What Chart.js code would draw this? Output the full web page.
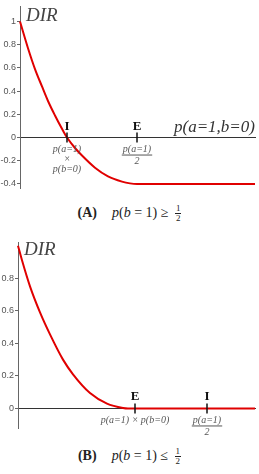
<!DOCTYPE html>
<html>
<head>
<meta charset="utf-8">
<script src="https://cdn.jsdelivr.net/npm/chart.js@4"></script>
<style>
body{margin:0;background:#fff;width:259px;height:474px;position:relative;overflow:hidden}
.box{position:absolute;left:0;width:259px}
.cap{position:absolute;left:0;width:259px;text-align:center;font:14px 'Liberation Serif',serif;color:#222;white-space:nowrap}
.cap b{font-weight:bold;margin-right:15px}
.frac{display:inline-block;vertical-align:middle;font-size:9px;line-height:9px;text-align:center;margin-left:3px}
.frac span{display:block;padding:0 1px}
.frac .n{border-bottom:1px solid #222}
</style>
</head>
<body>
<div class="box" style="top:0;height:195px"><canvas id="chartA"></canvas></div>
<div class="cap" style="top:204px"><b>(A)</b><i>p</i>(<i>b</i> = 1) &ge; <span class="frac"><span class="n">1</span><span>2</span></span></div>
<div class="box" style="top:236px;height:206px"><canvas id="chartB"></canvas></div>
<div class="cap" style="top:447px"><b>(B)</b><i>p</i>(<i>b</i> = 1) &le; <span class="frac"><span class="n">1</span><span>2</span></span></div>
<script>
// curve (A): p(b=1) >= 1/2
const xA = [0, 0.08, 0.15, 0.22, 0.28, 0.35, 0.42, 0.47, 0.55, 0.62, 0.75, 0.88, 1.02, 1.10, 1.17, 2.35];
const yA = [1.0, 0.77, 0.59, 0.44, 0.315, 0.19, 0.075, 0, -0.09, -0.155, -0.26, -0.335, -0.38, -0.395, -0.4, -0.4];
const yTicksA = [-0.4, -0.2, 0, 0.2, 0.4, 0.6, 0.8, 1];
const markX_A = [0.47, 1.17];
const markName_A = ['I', 'E'];
const markLabel_A = [['p(a=1)', '×', 'p(b=0)'], ['p(a=1)', '2']];
const markFrac_A = [false, true];

// curve (B): p(b=1) <= 1/2
const xB = [0, 0.04, 0.12, 0.22, 0.32, 0.45, 0.55, 0.72, 0.89, 1.05, 1.10, 2.37];
const yB = [1.0, 0.91, 0.75, 0.59, 0.455, 0.30, 0.21, 0.095, 0.03, 0.003, 0, 0];
const yTicksB = [0, 0.2, 0.4, 0.6, 0.8];
const markX_B = [1.17, 1.89];
const markName_B = ['E', 'I'];
const markLabel_B = [['p(a=1) × p(b=0)'], ['p(a=1)', '2']];
const markFrac_B = [false, true];

const serif = "'Liberation Serif', 'DejaVu Serif', serif";

const annotPlugin = {
  id: 'annot',
  afterDatasetsDraw(chart, args, opts) {
    const ctx = chart.ctx;
    const xs = chart.scales.x, ys = chart.scales.y;
    const py = ys.getPixelForValue(0);
    ctx.save();
    opts.marks.forEach((v, i) => {
      const px = xs.getPixelForValue(v);
      ctx.strokeStyle = '#111';
      ctx.lineWidth = 1.5;
      ctx.beginPath();
      ctx.moveTo(px, py - 5);
      ctx.lineTo(px, py + 5);
      ctx.stroke();
      ctx.fillStyle = '#111';
      ctx.font = 'bold 13px ' + serif;
      ctx.textAlign = 'center';
      ctx.textBaseline = 'alphabetic';
      ctx.fillText(opts.names[i], px, py - 8);
      ctx.fillStyle = '#555';
      ctx.font = 'italic 10px ' + serif;
      ctx.textBaseline = 'middle';
      const lines = opts.labels[i];
      if (opts.frac[i]) {
        ctx.fillText(lines[0], px, py + 12);
        const w = ctx.measureText(lines[0]).width;
        ctx.strokeStyle = '#555';
        ctx.lineWidth = 1;
        ctx.beginPath();
        ctx.moveTo(px - w / 2 - 1, py + 17.5);
        ctx.lineTo(px + w / 2 + 1, py + 17.5);
        ctx.stroke();
        ctx.fillText(lines[1], px, py + 24);
      } else {
        lines.forEach((t, k) => ctx.fillText(t, px, py + 12 + k * 10));
      }
    });
    // axis names
    ctx.fillStyle = '#444';
    ctx.font = 'italic 19px ' + serif;
    ctx.textAlign = 'left';
    ctx.textBaseline = 'alphabetic';
    ctx.fillText('DIR', chart.chartArea.left + 6, chart.chartArea.top + opts.dirDy);
    if (opts.xTitle) {
      ctx.fillStyle = '#333';
      ctx.font = 'italic 17px ' + serif;
      ctx.textAlign = 'right';
      ctx.fillText(opts.xTitle, chart.chartArea.right, py - 6);
    }
    ctx.restore();
  }
};

function makeChart(id, xs, ys, yMin, yMax, xMax, yTicks, axisW, pad, annot) {
  return new Chart(document.getElementById(id), {
    type: 'line',
    data: {
      datasets: [{
        data: xs.map((x, i) => ({ x: x, y: ys[i] })),
        borderColor: '#e00000',
        borderWidth: 2,
        pointRadius: 0,
        cubicInterpolationMode: 'monotone',
        fill: false,
        clip: 3
      }]
    },
    options: {
      responsive: true,
      maintainAspectRatio: false,
      animation: false,
      layout: { padding: pad },
      plugins: { legend: { display: false }, tooltip: { enabled: false }, annot: annot },
      scales: {
        x: {
          type: 'linear', min: 0, max: xMax,
          position: { y: 0 },
          grid: { drawOnChartArea: false, drawTicks: false },
          ticks: { display: false },
          border: { color: '#333', width: 1 }
        },
        y: {
          min: yMin, max: yMax,
          afterBuildTicks: s => { s.ticks = yTicks.map(v => ({ value: v })); },
          afterFit: s => { s.width = axisW; },
          grid: { drawOnChartArea: false, tickLength: 3, color: '#666' },
          border: { color: '#666', width: 1 },
          ticks: {
            color: '#555', padding: 1,
            font: { size: 9, family: "'Liberation Sans', Arial, sans-serif" },
            callback: v => String(+v.toFixed(1))
          }
        }
      }
    },
    plugins: [annotPlugin]
  });
}

makeChart('chartA', xA, yA, -0.44, 1.13, 2.35, yTicksA, 20,
  { top: 3, right: 4, bottom: 5, left: 0 },
  { marks: markX_A, names: markName_A, labels: markLabel_A, frac: markFrac_A, dirDy: 15, xTitle: 'p(a=1,b=0)' });

makeChart('chartB', xB, yB, -0.12, 1.02, 2.37, yTicksB, 18,
  { top: 4, right: 4, bottom: 14, left: 0 },
  { marks: markX_B, names: markName_B, labels: markLabel_B, frac: markFrac_B, dirDy: 13, xTitle: '' });
</script>
</body>
</html>
